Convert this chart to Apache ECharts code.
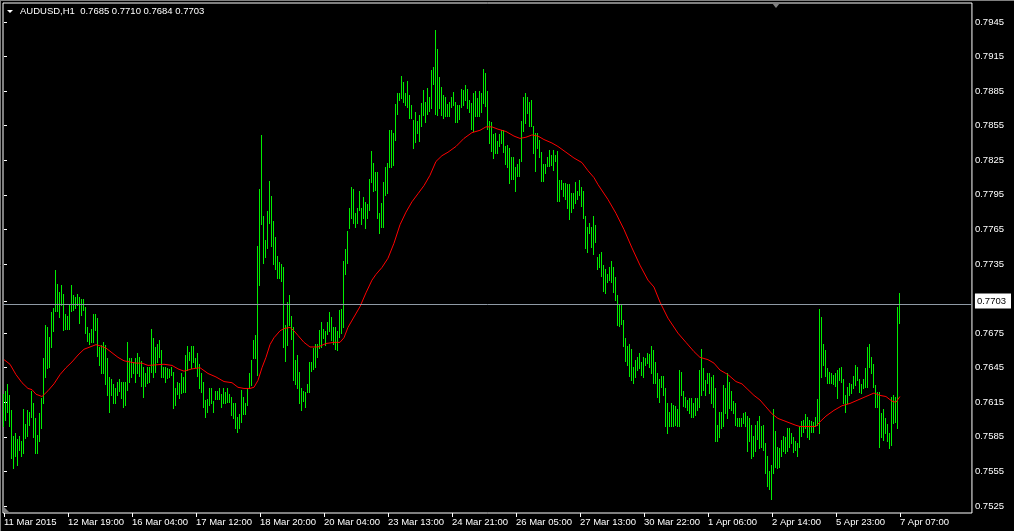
<!DOCTYPE html>
<html><head><meta charset="utf-8">
<script src="https://cdn.jsdelivr.net/npm/echarts@6/dist/echarts.min.js"></script>
<style>html,body{margin:0;padding:0;background:#000;overflow:hidden}#c{width:1014px;height:531px}</style>
</head><body><div id="c"></div>
<script>
const symbolName = 'AUDUSD,H1';
const lastOHLC = [0.7685, 0.7710, 0.7684, 0.7703];
const currentPrice = 0.7703;

const highs = [
0.7622,0.7625,0.7631,0.7621,0.7608,0.7586,0.7588,0.7583,0.7586,0.7581,
0.7609,0.7596,0.7608,0.7607,0.7625,0.7614,0.7601,0.7587,0.7606,0.7619,
0.7653,0.7682,0.7680,0.7672,0.7693,0.7697,0.7730,0.7718,0.7711,0.7717,
0.7709,0.7692,0.7690,0.7700,0.7717,0.7708,0.7706,0.7709,0.7706,0.7705,
0.7705,0.7698,0.7680,0.7675,0.7679,0.7692,0.7692,0.7688,0.7663,0.7665,
0.7667,0.7665,0.7653,0.7637,0.7635,0.7631,0.7627,0.7633,0.7635,0.7633,
0.7633,0.7633,0.7667,0.7653,0.7653,0.7650,0.7653,0.7658,0.7654,0.7651,
0.7646,0.7640,0.7646,0.7646,0.7679,0.7671,0.7663,0.7666,0.7669,0.7660,
0.7646,0.7646,0.7645,0.7644,0.7646,0.7641,0.7627,0.7633,0.7632,0.7640,
0.7637,0.7656,0.7664,0.7659,0.7664,0.7664,0.7653,0.7658,0.7648,0.7640,
0.7633,0.7617,0.7618,0.7627,0.7627,0.7616,0.7625,0.7625,0.7627,0.7622,
0.7627,0.7624,0.7627,0.7622,0.7620,0.7614,0.7614,0.7602,0.7605,0.7626,
0.7620,0.7614,0.7627,0.7640,0.7652,0.7669,0.7673,0.7751,0.7800,0.7847,
0.7777,0.7756,0.7781,0.7807,0.7794,0.7772,0.7758,0.7742,0.7737,0.7735,
0.7732,0.7682,0.7702,0.7708,0.7690,0.7680,0.7652,0.7656,0.7641,0.7627,
0.7625,0.7624,0.7631,0.7650,0.7650,0.7662,0.7666,0.7666,0.7678,0.7685,
0.7679,0.7677,0.7685,0.7693,0.7689,0.7680,0.7680,0.7677,0.7695,0.7696,
0.7738,0.7748,0.7764,0.7784,0.7802,0.7800,0.7779,0.7784,0.7798,0.7784,
0.7793,0.7789,0.7787,0.7809,0.7833,0.7823,0.7815,0.7815,0.7779,0.7788,
0.7806,0.7819,0.7823,0.7851,0.7851,0.7849,0.7874,0.7883,0.7883,0.7898,
0.7893,0.7883,0.7894,0.7882,0.7873,0.7860,0.7867,0.7859,0.7864,0.7875,
0.7886,0.7876,0.7888,0.7880,0.7903,0.7906,0.7938,0.7922,0.7897,0.7889,
0.7882,0.7880,0.7874,0.7876,0.7880,0.7884,0.7876,0.7873,0.7873,0.7887,
0.7886,0.7890,0.7887,0.7877,0.7875,0.7883,0.7885,0.7879,0.7885,0.7883,
0.7904,0.7901,0.7885,0.7859,0.7858,0.7848,0.7849,0.7842,0.7848,0.7851,
0.7851,0.7837,0.7838,0.7836,0.7828,0.7828,0.7819,0.7822,0.7826,0.7859,
0.7880,0.7883,0.7880,0.7876,0.7877,0.7855,0.7849,0.7849,0.7843,0.7832,
0.7822,0.7822,0.7828,0.7834,0.7830,0.7834,0.7830,0.7833,0.7808,0.7808,
0.7805,0.7805,0.7804,0.7804,0.7797,0.7797,0.7806,0.7798,0.7808,0.7802,
0.7798,0.7777,0.7767,0.7771,0.7767,0.7777,0.7769,0.7741,0.7744,0.7745,
0.7734,0.7731,0.7726,0.7732,0.7738,0.7732,0.7724,0.7708,0.7700,0.7700,
0.7686,0.7671,0.7664,0.7666,0.7661,0.7646,0.7652,0.7654,0.7658,0.7650,
0.7654,0.7653,0.7658,0.7657,0.7664,0.7660,0.7650,0.7640,0.7635,0.7638,
0.7638,0.7627,0.7614,0.7607,0.7614,0.7613,0.7612,0.7609,0.7643,0.7641,
0.7625,0.7620,0.7617,0.7619,0.7619,0.7614,0.7619,0.7619,0.7643,0.7661,
0.7645,0.7634,0.7640,0.7640,0.7637,0.7639,0.7627,0.7595,0.7607,0.7607,
0.7630,0.7627,0.7640,0.7633,0.7625,0.7616,0.7614,0.7601,0.7601,0.7601,
0.7606,0.7607,0.7603,0.7601,0.7595,0.7586,0.7595,0.7599,0.7603,0.7594,
0.7595,0.7580,0.7568,0.7555,0.7561,0.7609,0.7590,0.7576,0.7575,0.7582,
0.7586,0.7585,0.7593,0.7593,0.7588,0.7585,0.7581,0.7580,0.7594,0.7599,
0.7600,0.7605,0.7602,0.7600,0.7599,0.7598,0.7602,0.7618,0.7696,0.7689,
0.7666,0.7660,0.7645,0.7641,0.7640,0.7639,0.7640,0.7643,0.7645,0.7646,
0.7635,0.7621,0.7628,0.7632,0.7631,0.7638,0.7647,0.7646,0.7635,0.7631,
0.7635,0.7645,0.7663,0.7666,0.7654,0.7648,0.7630,0.7624,0.7624,0.7606,
0.7609,0.7601,0.7596,0.7588,0.7620,0.7621,0.7620,0.7698,0.7710
];

const lows = [
0.7594,0.7600,0.7607,0.7594,0.7567,0.7558,0.7568,0.7561,0.7574,0.7568,
0.7571,0.7584,0.7586,0.7595,0.7602,0.7585,0.7571,0.7571,0.7581,0.7593,
0.7614,0.7637,0.7645,0.7646,0.7663,0.7677,0.7694,0.7694,0.7689,0.7699,
0.7678,0.7679,0.7679,0.7679,0.7694,0.7695,0.7697,0.7699,0.7684,0.7691,
0.7695,0.7675,0.7668,0.7666,0.7667,0.7667,0.7678,0.7655,0.7647,0.7640,
0.7640,0.7631,0.7621,0.7607,0.7621,0.7614,0.7614,0.7621,0.7625,0.7619,
0.7611,0.7613,0.7626,0.7633,0.7637,0.7640,0.7633,0.7640,0.7638,0.7629,
0.7620,0.7629,0.7632,0.7633,0.7641,0.7637,0.7641,0.7650,0.7654,0.7637,
0.7637,0.7633,0.7636,0.7637,0.7639,0.7610,0.7613,0.7622,0.7619,0.7623,
0.7624,0.7624,0.7643,0.7652,0.7645,0.7650,0.7646,0.7638,0.7627,0.7624,
0.7611,0.7602,0.7607,0.7613,0.7614,0.7607,0.7618,0.7618,0.7618,0.7611,
0.7614,0.7614,0.7615,0.7615,0.7604,0.7601,0.7593,0.7589,0.7593,0.7598,
0.7605,0.7605,0.7613,0.7627,0.7630,0.7653,0.7653,0.7639,0.7717,0.7770,
0.7736,0.7741,0.7749,0.7771,0.7751,0.7735,0.7731,0.7723,0.7723,0.7720,
0.7663,0.7651,0.7665,0.7682,0.7670,0.7634,0.7631,0.7627,0.7614,0.7608,
0.7616,0.7611,0.7624,0.7624,0.7642,0.7644,0.7646,0.7654,0.7662,0.7663,
0.7671,0.7665,0.7674,0.7677,0.7669,0.7666,0.7661,0.7660,0.7672,0.7675,
0.7680,0.7726,0.7736,0.7766,0.7775,0.7771,0.7767,0.7771,0.7782,0.7770,
0.7775,0.7766,0.7775,0.7782,0.7806,0.7798,0.7799,0.7775,0.7762,0.7767,
0.7767,0.7795,0.7797,0.7819,0.7819,0.7821,0.7843,0.7865,0.7877,0.7879,
0.7876,0.7873,0.7871,0.7862,0.7862,0.7836,0.7841,0.7849,0.7842,0.7855,
0.7864,0.7858,0.7865,0.7868,0.7870,0.7891,0.7865,0.7864,0.7870,0.7864,
0.7862,0.7863,0.7863,0.7863,0.7871,0.7873,0.7858,0.7858,0.7861,0.7871,
0.7873,0.7877,0.7870,0.7867,0.7852,0.7850,0.7863,0.7863,0.7863,0.7867,
0.7875,0.7872,0.7852,0.7840,0.7833,0.7827,0.7831,0.7831,0.7837,0.7840,
0.7832,0.7822,0.7819,0.7805,0.7809,0.7809,0.7798,0.7811,0.7811,0.7824,
0.7850,0.7857,0.7866,0.7855,0.7855,0.7831,0.7816,0.7836,0.7828,0.7807,
0.7807,0.7814,0.7820,0.7820,0.7821,0.7817,0.7824,0.7790,0.7790,0.7800,
0.7794,0.7791,0.7784,0.7774,0.7780,0.7784,0.7788,0.7791,0.7795,0.7785,
0.7775,0.7749,0.7745,0.7762,0.7750,0.7744,0.7754,0.7731,0.7732,0.7725,
0.7712,0.7710,0.7719,0.7721,0.7719,0.7711,0.7704,0.7682,0.7681,0.7683,
0.7664,0.7651,0.7647,0.7638,0.7634,0.7632,0.7637,0.7643,0.7645,0.7639,
0.7637,0.7647,0.7649,0.7646,0.7640,0.7632,0.7632,0.7620,0.7615,0.7628,
0.7621,0.7594,0.7588,0.7594,0.7594,0.7594,0.7595,0.7594,0.7594,0.7621,
0.7612,0.7611,0.7608,0.7606,0.7602,0.7602,0.7604,0.7608,0.7611,0.7621,
0.7626,0.7621,0.7632,0.7623,0.7614,0.7611,0.7581,0.7581,0.7585,0.7593,
0.7594,0.7606,0.7601,0.7610,0.7608,0.7606,0.7595,0.7594,0.7594,0.7594,
0.7597,0.7594,0.7573,0.7581,0.7567,0.7568,0.7573,0.7583,0.7575,0.7576,
0.7574,0.7554,0.7542,0.7540,0.7531,0.7554,0.7559,0.7558,0.7559,0.7568,
0.7573,0.7571,0.7573,0.7576,0.7580,0.7572,0.7574,0.7568,0.7576,0.7586,
0.7589,0.7593,0.7585,0.7583,0.7589,0.7589,0.7594,0.7595,0.7588,0.7637,
0.7647,0.7638,0.7632,0.7632,0.7632,0.7631,0.7629,0.7619,0.7634,0.7633,
0.7614,0.7607,0.7614,0.7621,0.7623,0.7627,0.7630,0.7634,0.7624,0.7623,
0.7627,0.7628,0.7628,0.7646,0.7640,0.7628,0.7611,0.7611,0.7576,0.7585,
0.7582,0.7588,0.7581,0.7575,0.7578,0.7597,0.7598,0.7593,0.7684
];

const maIndex = [0,3,6,9,12,14,16,19,20,22,25,28,31,34,37,40,43,46,48,51,54,57,60,63,66,69,72,80,84,87,90,94,98,102,106,110,114,117,120,123,125,127,129,131,133,135,138,140,143,145,147,150,153,157,161,165,168,170,172,175,178,181,184,186,189,192,195,198,201,204,207,210,213,216,219,222,226,230,234,238,241,244,247,251,255,258,261,264,267,270,274,277,281,285,289,292,295,297,302,306,310,314,318,322,325,328,332,337,341,345,348,352,355,358,362,366,369,372,375,378,381,384,387,390,393,396,398,401,406,408,411,415,419,423,427,431,435,438,441,444,446,448];
const maValues = [0.7652,0.7648,0.7639,0.7632,0.7627,0.7626,0.7622,0.7620,0.7621,0.7625,0.7631,0.7639,0.7645,0.7650,0.7656,0.7661,0.7663,0.7665,0.7664,0.7662,0.7658,0.7654,0.7651,0.7650,0.7649,0.7649,0.7647,0.7648,0.7647,0.7644,0.7642,0.7644,0.7645,0.7640,0.7637,0.7633,0.7632,0.7628,0.7627,0.7627,0.7628,0.7634,0.7645,0.7654,0.7665,0.7671,0.7677,0.7679,0.7680,0.7677,0.7673,0.7667,0.7663,0.7663,0.7666,0.7667,0.7667,0.7671,0.7680,0.7689,0.7698,0.7710,0.7721,0.7726,0.7732,0.7740,0.7753,0.7769,0.7780,0.7789,0.7796,0.7803,0.7812,0.7824,0.7829,0.7832,0.7837,0.7844,0.7849,0.7851,0.7854,0.7854,0.7852,0.7850,0.7846,0.7844,0.7845,0.7847,0.7846,0.7843,0.7840,0.7837,0.7832,0.7827,0.7823,0.7816,0.7810,0.7804,0.7791,0.7779,0.7765,0.7749,0.7734,0.7721,0.7715,0.7702,0.7688,0.7675,0.7667,0.7659,0.7654,0.7652,0.7649,0.7643,0.7639,0.7633,0.7631,0.7626,0.7621,0.7617,0.7611,0.7605,0.7601,0.7599,0.7597,0.7595,0.7594,0.7594,0.7594,0.7598,0.7603,0.7608,0.7612,0.7614,0.7617,0.7620,0.7623,0.7621,0.7620,0.7616,0.7615,0.7620];

const xTickIndex = [0,32,64,96,128,160,192,224,256,288,320,352,384,416,448];
const xTickLabels = ['11 Mar 2015','12 Mar 19:00','16 Mar 04:00','17 Mar 12:00','18 Mar 20:00','20 Mar 04:00','23 Mar 13:00','24 Mar 21:00','26 Mar 05:00','27 Mar 13:00','30 Mar 22:00','1 Apr 06:00','2 Apr 14:00','5 Apr 23:00','7 Apr 07:00'];
const yTickValues = [0.7525,0.7555,0.7585,0.7615,0.7645,0.7675,0.7703,0.7735,0.7765,0.7795,0.7825,0.7855,0.7885,0.7915,0.7945];

const FONT = '"Liberation Sans", Arial, sans-serif';
const BAR_COLOR = '#00ee00';
const chart = echarts.init(document.getElementById('c'), null, {renderer: 'canvas'});

const barData = highs.map((h, i) => [i, lows[i], h]);
const maData = maIndex.map((k, j) => [k, maValues[j]]);

chart.setOption({
  animation: false,
  backgroundColor: '#000',
  grid: {left: 3, right: 42, top: 3, bottom: 18, show: true, borderColor: '#ffffff', borderWidth: 1, backgroundColor: '#000'},
  xAxis: {
    type: 'value', min: -0.5, max: 484,
    axisLine: {show: false},
    splitLine: {show: false},
    axisTick: {show: true, customValues: xTickIndex, length: 4, lineStyle: {color: '#ffffff'}},
    axisLabel: {
      customValues: xTickIndex, color: '#ffffff', fontFamily: FONT, fontSize: 9.5,
      align: 'left', margin: 4,
      formatter: v => { const k = xTickIndex.indexOf(Math.round(v)); return k >= 0 ? xTickLabels[k] : ''; }
    }
  },
  yAxis: {
    type: 'value', position: 'right', min: 0.751893, max: 0.796149, scale: true,
    axisLine: {show: false},
    splitLine: {show: false},
    axisTick: {show: true, customValues: yTickValues, length: 3, lineStyle: {color: '#ffffff'}},
    axisLabel: {
      customValues: yTickValues, color: '#ffffff', fontFamily: FONT, fontSize: 9.5, margin: 3,
      formatter: v => Math.abs(v - currentPrice) < 1e-7 ? '{cur|' + v.toFixed(4) + '}' : v.toFixed(4),
      rich: {cur: {backgroundColor: '#ffffff', color: '#000000', fontFamily: FONT, fontSize: 9.5, padding: [3, 5, 2, 2]}}
    }
  },
  series: [
    {
      type: 'line', data: [], z: 1, silent: true,
      markLine: {silent: true, symbol: 'none', animation: false,
        lineStyle: {color: '#8f9aa5', type: 'solid', width: 1},
        label: {show: false}, data: [{yAxis: currentPrice}]}
    },
    {
      type: 'custom', z: 3, silent: true,
      itemStyle: {color: BAR_COLOR},
      encode: {x: 0, y: [1, 2]},
      data: barData,
      renderItem: function (params, api) {
        const i = api.value(0);
        const pLow = api.coord([i, api.value(1)]);
        const pHigh = api.coord([i, api.value(2)]);
        const x = Math.floor(pLow[0]) + 0.5;
        return {type: 'line', shape: {x1: x, y1: Math.round(pHigh[1]), x2: x, y2: Math.round(pLow[1]) + 1},
          style: {stroke: BAR_COLOR, lineWidth: 1}};
      }
    },
    {
      type: 'line', z: 4, data: maData, showSymbol: false, symbol: 'none', smooth: false, silent: true,
      lineStyle: {color: '#ff0000', width: 1}
    }
  ],
  graphic: [
    {type: 'polygon', shape: {points: [[7, 10], [13, 10], [10, 13]]}, style: {fill: '#ffffff'}},
    {type: 'text', left: 20, top: 6, style: {text: symbolName + '  ' + lastOHLC.map(v => v.toFixed(4)).join(' '), fill: '#ffffff', font: '9.5px ' + FONT}},
    {type: 'polygon', shape: {points: [[772, 3], [780, 3], [776, 8]]}, style: {fill: '#808080'}},
    {type: 'polygon', shape: {points: [[4, 507], [4, 512], [9, 512]]}, style: {fill: '#808080'}},
    {type: 'line', shape: {x1: 0.5, y1: 0, x2: 0.5, y2: 531}, style: {stroke: '#808080', lineWidth: 1}},
    {type: 'line', shape: {x1: 0, y1: 0.5, x2: 1014, y2: 0.5}, style: {stroke: '#808080', lineWidth: 1}}
  ]
});
</script>
</body></html>
